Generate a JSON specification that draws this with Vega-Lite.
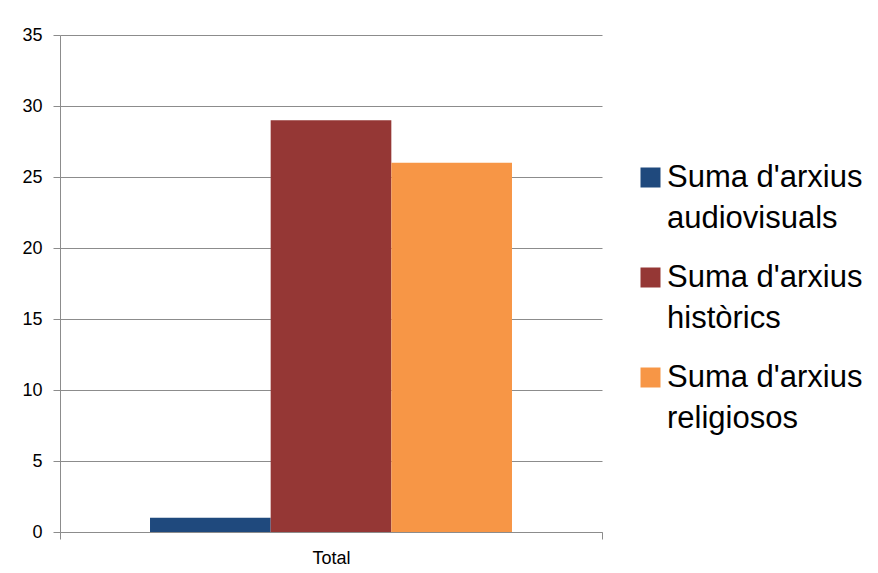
{
  "$schema": "https://vega.github.io/schema/vega-lite/v6.json",
  "autosize": {"type": "none"},
  "padding": {"left": 60, "top": 35, "right": 276, "bottom": 41},
  "width": 542,
  "height": 497,
  "background": "white",
  "data": {
    "values": [
      {"category": "Total", "serie": "Suma d'arxius audiovisuals", "value": 1},
      {"category": "Total", "serie": "Suma d'arxius històrics", "value": 29},
      {"category": "Total", "serie": "Suma d'arxius religiosos", "value": 26}
    ]
  },
  "mark": {"type": "bar"},
  "encoding": {
    "x": {
      "field": "category",
      "type": "nominal",
      "title": null,
      "scale": {"paddingInner": 0, "paddingOuter": 0},
      "axis": {
        "labelAngle": 0,
        "tickBand": "extent",
        "tickSize": 7,
        "labelPadding": 10,
        "labelFont": "Liberation Sans",
        "labelFontSize": 18,
        "labelColor": "#000000",
        "domainColor": "#8c8c8c",
        "tickColor": "#8c8c8c",
        "grid": false
      }
    },
    "xOffset": {
      "field": "serie",
      "type": "nominal",
      "sort": ["Suma d'arxius audiovisuals", "Suma d'arxius històrics", "Suma d'arxius religiosos"],
      "scale": {"paddingInner": 0, "paddingOuter": 0.746}
    },
    "y": {
      "field": "value",
      "type": "quantitative",
      "title": null,
      "scale": {"domain": [0, 35], "nice": false},
      "axis": {
        "values": [0, 5, 10, 15, 20, 25, 30, 35],
        "tickSize": 7,
        "labelPadding": 11,
        "labelFont": "Liberation Sans",
        "labelFontSize": 18,
        "labelColor": "#000000",
        "domainColor": "#8c8c8c",
        "tickColor": "#8c8c8c",
        "gridColor": "#8c8c8c",
        "gridOpacity": 1
      }
    },
    "color": {
      "field": "serie",
      "type": "nominal",
      "scale": {
        "domain": ["Suma d'arxius audiovisuals", "Suma d'arxius històrics", "Suma d'arxius religiosos"],
        "range": ["#1F497D", "#953735", "#F79646"]
      },
      "legend": {
        "title": null,
        "orient": "none",
        "legendX": 575,
        "legendY": 127,
        "labelFont": "Liberation Sans",
        "labelFontSize": 31,
        "labelColor": "#000000",
        "labelLimit": 0,
        "labelOffset": 1,
        "labelExpr": "[slice(datum.label, 0, 13), slice(datum.label, 14)]",
        "symbolType": "square",
        "symbolSize": 400,
        "symbolStrokeWidth": 0,
        "symbolOpacity": 1,
        "rowPadding": 27
      }
    }
  },
  "config": {
    "view": {"stroke": null},
    "style": {"guide-label": {"lineHeight": 41}}
  }
}
